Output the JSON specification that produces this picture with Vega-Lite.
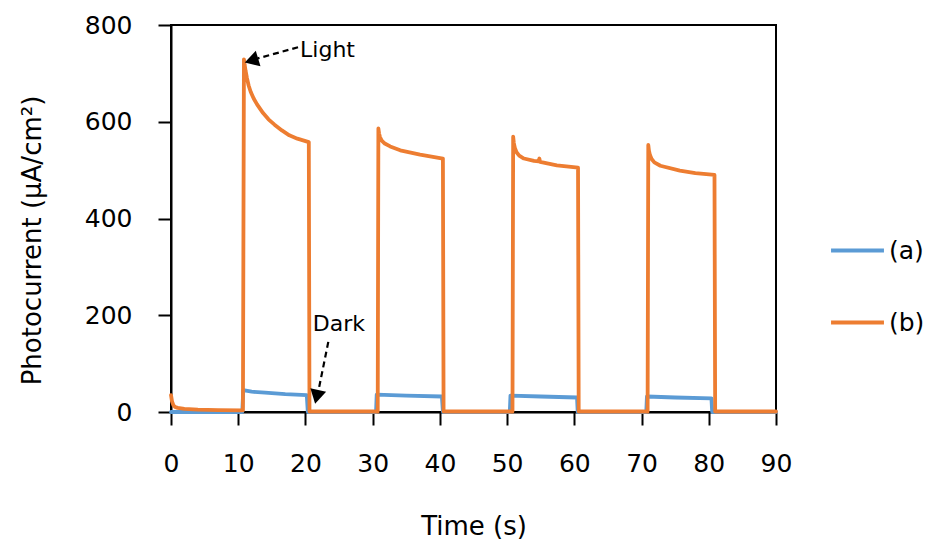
{
  "$schema": "https://vega.github.io/schema/vega-lite/v6.json",
  "width": 605,
  "height": 387,
  "autosize": {"type": "none"},
  "padding": {"left": 171, "top": 25, "right": 156, "bottom": 133},
  "background": "white",
  "config": {
    "font": "DejaVu Sans",
    "view": {"stroke": "#000000", "strokeWidth": 2},
    "axis": {
      "grid": false,
      "domainColor": "#000000",
      "domainWidth": 2,
      "tickColor": "#000000",
      "tickWidth": 2,
      "tickSize": 13,
      "labelFont": "DejaVu Sans",
      "labelFontSize": 25,
      "labelColor": "#000000",
      "labelPadding": 26,
      "labelFlush": false,
      "labelOverlap": false,
      "titleFont": "DejaVu Sans",
      "titleFontSize": 26,
      "titleFontWeight": "normal",
      "titleColor": "#000000"
    },
    "legend": {
      "labelFont": "DejaVu Sans",
      "labelFontSize": 25,
      "labelColor": "#000000"
    }
  },
  "datasets": {
    "photocurrent": [
      {"t": 0, "v": 0, "sample": "(a)"},
      {"t": 10.6, "v": 0, "sample": "(a)"},
      {"t": 10.75, "v": 45, "sample": "(a)"},
      {"t": 12, "v": 42, "sample": "(a)"},
      {"t": 14, "v": 40, "sample": "(a)"},
      {"t": 17, "v": 37, "sample": "(a)"},
      {"t": 20.2, "v": 35, "sample": "(a)"},
      {"t": 20.35, "v": 0, "sample": "(a)"},
      {"t": 30.5, "v": 0, "sample": "(a)"},
      {"t": 30.6, "v": 36, "sample": "(a)"},
      {"t": 35, "v": 34, "sample": "(a)"},
      {"t": 40.3, "v": 32, "sample": "(a)"},
      {"t": 40.45, "v": 0, "sample": "(a)"},
      {"t": 50.4, "v": 0, "sample": "(a)"},
      {"t": 50.5, "v": 34, "sample": "(a)"},
      {"t": 55, "v": 32, "sample": "(a)"},
      {"t": 60.4, "v": 30, "sample": "(a)"},
      {"t": 60.5, "v": 0, "sample": "(a)"},
      {"t": 70.7, "v": 0, "sample": "(a)"},
      {"t": 70.8, "v": 32, "sample": "(a)"},
      {"t": 75, "v": 30, "sample": "(a)"},
      {"t": 80.4, "v": 28, "sample": "(a)"},
      {"t": 80.5, "v": 0, "sample": "(a)"},
      {"t": 90, "v": 0, "sample": "(a)"},

      {"t": 0, "v": 35, "sample": "(b)"},
      {"t": 0.15, "v": 22, "sample": "(b)"},
      {"t": 0.35, "v": 14, "sample": "(b)"},
      {"t": 0.6, "v": 10.5, "sample": "(b)"},
      {"t": 1.0, "v": 8.5, "sample": "(b)"},
      {"t": 2, "v": 6.5, "sample": "(b)"},
      {"t": 4, "v": 5, "sample": "(b)"},
      {"t": 7, "v": 4, "sample": "(b)"},
      {"t": 10.7, "v": 3.5, "sample": "(b)"},
      {"t": 10.85, "v": 729, "sample": "(b)"},
      {"t": 10.95, "v": 718, "sample": "(b)"},
      {"t": 11.1, "v": 705, "sample": "(b)"},
      {"t": 11.3, "v": 690, "sample": "(b)"},
      {"t": 11.55, "v": 675, "sample": "(b)"},
      {"t": 11.85, "v": 662, "sample": "(b)"},
      {"t": 12.3, "v": 648, "sample": "(b)"},
      {"t": 12.8, "v": 636, "sample": "(b)"},
      {"t": 13.7, "v": 618, "sample": "(b)"},
      {"t": 14.5, "v": 605, "sample": "(b)"},
      {"t": 15.4, "v": 594, "sample": "(b)"},
      {"t": 16.5, "v": 582, "sample": "(b)"},
      {"t": 17.6, "v": 572, "sample": "(b)"},
      {"t": 18.8, "v": 565, "sample": "(b)"},
      {"t": 20.5, "v": 558, "sample": "(b)"},
      {"t": 20.6, "v": 1, "sample": "(b)"},
      {"t": 30.75, "v": 1, "sample": "(b)"},
      {"t": 30.85, "v": 586, "sample": "(b)"},
      {"t": 30.95, "v": 576, "sample": "(b)"},
      {"t": 31.1, "v": 568, "sample": "(b)"},
      {"t": 31.35, "v": 561, "sample": "(b)"},
      {"t": 31.8, "v": 555, "sample": "(b)"},
      {"t": 32.6, "v": 549, "sample": "(b)"},
      {"t": 34.1, "v": 541, "sample": "(b)"},
      {"t": 37.05, "v": 532, "sample": "(b)"},
      {"t": 40.45, "v": 524, "sample": "(b)"},
      {"t": 40.55, "v": 1, "sample": "(b)"},
      {"t": 50.8, "v": 1, "sample": "(b)"},
      {"t": 50.9, "v": 569, "sample": "(b)"},
      {"t": 51.0, "v": 556, "sample": "(b)"},
      {"t": 51.15, "v": 546, "sample": "(b)"},
      {"t": 51.4, "v": 537, "sample": "(b)"},
      {"t": 51.8, "v": 530, "sample": "(b)"},
      {"t": 52.5, "v": 524, "sample": "(b)"},
      {"t": 54.0, "v": 519, "sample": "(b)"},
      {"t": 54.7, "v": 518, "sample": "(b)"},
      {"t": 54.8, "v": 524, "sample": "(b)"},
      {"t": 54.9, "v": 517, "sample": "(b)"},
      {"t": 57.4, "v": 510, "sample": "(b)"},
      {"t": 60.55, "v": 505, "sample": "(b)"},
      {"t": 60.65, "v": 1, "sample": "(b)"},
      {"t": 70.9, "v": 1, "sample": "(b)"},
      {"t": 71.0, "v": 552, "sample": "(b)"},
      {"t": 71.1, "v": 540, "sample": "(b)"},
      {"t": 71.25, "v": 531, "sample": "(b)"},
      {"t": 71.5, "v": 523, "sample": "(b)"},
      {"t": 71.9, "v": 516, "sample": "(b)"},
      {"t": 72.8, "v": 509, "sample": "(b)"},
      {"t": 75.7, "v": 499, "sample": "(b)"},
      {"t": 78, "v": 494, "sample": "(b)"},
      {"t": 80.85, "v": 490, "sample": "(b)"},
      {"t": 80.95, "v": 1, "sample": "(b)"},
      {"t": 90, "v": 1, "sample": "(b)"}
    ],
    "callouts": [
      {"label": "Light", "tx": 19.2, "tv": 733, "t0": 18.9, "v0": 754, "t1": 12.9, "v1": 731, "ht": 12.3, "hv": 728, "dir": 253},
      {"label": "Dark", "tx": 21.1, "tv": 167, "t0": 23.4, "v0": 145, "t1": 22.05, "v1": 52, "ht": 21.75, "hv": 36, "dir": 193}
    ]
  },
  "layer": [
    {
      "data": {"name": "photocurrent"},
      "mark": {"type": "line", "strokeWidth": 3.8, "interpolate": "linear", "strokeJoin": "round", "strokeCap": "round"},
      "encoding": {
        "x": {
          "field": "t",
          "type": "quantitative",
          "scale": {"domain": [0, 90], "nice": false, "zero": false},
          "axis": {
            "values": [0, 10, 20, 30, 40, 50, 60, 70, 80, 90],
            "title": "Time (s)",
            "titleX": 302.5,
            "titleY": 122,
            "titleBaseline": "alphabetic",
            "titleAnchor": "middle"
          }
        },
        "y": {
          "field": "v",
          "type": "quantitative",
          "scale": {"domain": [0, 800], "nice": false},
          "axis": {
            "values": [0, 200, 400, 600, 800],
            "title": "Photocurrent (μA/cm²)",
            "titleX": -131,
            "titleY": 215,
            "titleAngle": -90,
            "titleBaseline": "alphabetic",
            "titleAlign": "center"
          }
        },
        "color": {
          "field": "sample",
          "type": "nominal",
          "scale": {"domain": ["(a)", "(b)"], "range": ["#5B9BD5", "#ED7D31"]},
          "legend": {
            "title": null,
            "orient": "none",
            "legendX": 658,
            "legendY": 197,
            "symbolType": "stroke",
            "symbolSize": 2800,
            "symbolStrokeWidth": 3.8,
            "labelOffset": 3,
            "rowPadding": 30
          }
        },
        "order": {"field": "t", "type": "quantitative"}
      }
    },
    {
      "data": {"name": "callouts"},
      "mark": {"type": "rule", "color": "#000000", "strokeWidth": 2.2, "strokeDash": [6, 4]},
      "encoding": {
        "x": {"field": "t0", "type": "quantitative"},
        "y": {"field": "v0", "type": "quantitative"},
        "x2": {"field": "t1"},
        "y2": {"field": "v1"}
      }
    },
    {
      "data": {"name": "callouts"},
      "mark": {"type": "point", "shape": "triangle", "filled": true, "color": "#000000", "size": 260, "opacity": 1},
      "encoding": {
        "x": {"field": "ht", "type": "quantitative"},
        "y": {"field": "hv", "type": "quantitative"},
        "angle": {"field": "dir", "type": "quantitative", "scale": null}
      }
    },
    {
      "data": {"name": "callouts"},
      "mark": {"type": "text", "align": "left", "baseline": "alphabetic", "fontSize": 22, "font": "DejaVu Sans", "color": "#000000"},
      "encoding": {
        "x": {"field": "tx", "type": "quantitative"},
        "y": {"field": "tv", "type": "quantitative"},
        "text": {"field": "label", "type": "nominal"}
      }
    }
  ]
}
